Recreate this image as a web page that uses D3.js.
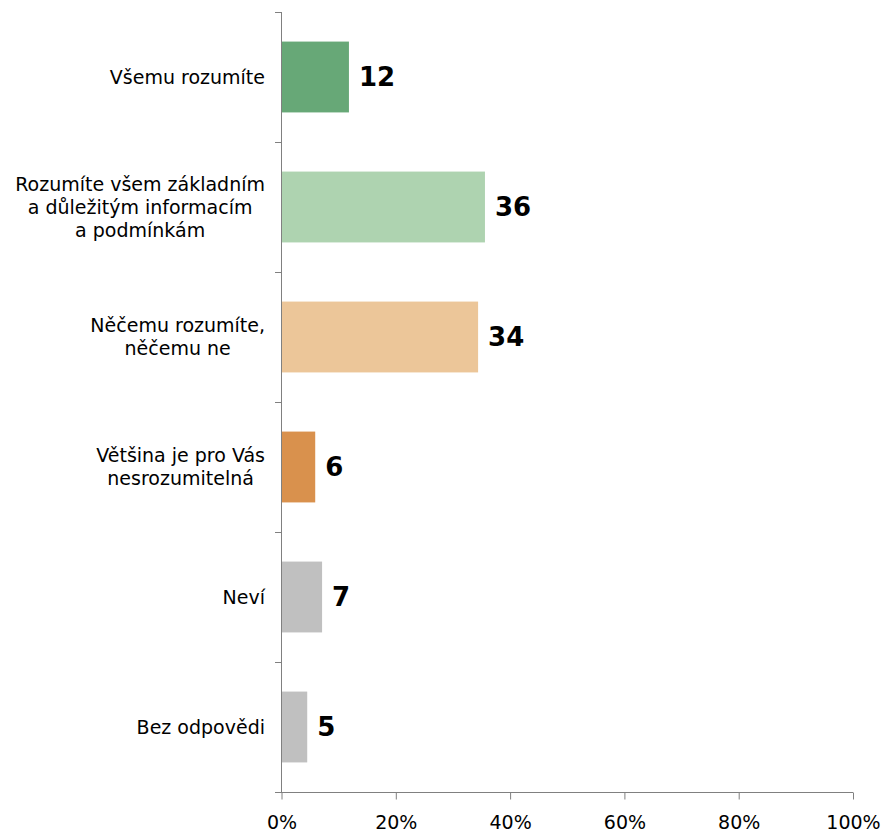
<!DOCTYPE html>
<html><head><meta charset="utf-8">
<script src="https://cdn.jsdelivr.net/npm/d3@7"></script>
<style>body{margin:0;background:#fff}svg{display:block}text{font-family:"DejaVu Sans",Verdana,sans-serif}</style>
</head><body>
<script>
const categories = [
  ["Všemu rozumíte"],
  ["Rozumíte všem základním","a důležitým informacím","a podmínkám"],
  ["Něčemu rozumíte,","něčemu ne"],
  ["Většina je pro Vás","nesrozumitelná"],
  ["Neví"],
  ["Bez odpovědi"]
];
const values = [11.8, 35.6, 34.4, 5.9, 7.1, 4.5];
const valueLabels = ["12","36","34","6","7","5"];
const colors = ["#67a877","#aed3b0","#ecc699","#d9914d","#c0c0c0","#c0c0c0"];
const xTicks = [0,20,40,60,80,100];

const W=885,H=831;
const svg=d3.select("body").append("svg").attr("width",W).attr("height",H);
const x=d3.scaleLinear().domain([0,100]).range([281.5,853]);
const y=d3.scaleBand().domain(d3.range(categories.length)).range([12,792]).paddingInner(0.455).paddingOuter(0.2275);

// bars
svg.selectAll("rect.bar").data(values).join("rect")
  .attr("x",x(0)).attr("y",(d,i)=>y(i)).attr("width",d=>x(d)-x(0)).attr("height",y.bandwidth())
  .attr("fill",(d,i)=>colors[i]);

// value labels
svg.selectAll("text.val").data(values).join("text")
  .attr("x",d=>x(d)+10).attr("y",(d,i)=>y(i)+y.bandwidth()/2).attr("dy","0.36em")
  .attr("font-size",26).attr("font-weight","bold").attr("fill","#000")
  .text((d,i)=>valueLabels[i]);

// x axis
const xAxis=svg.append("g").attr("transform","translate(0,792.5)")
  .call(d3.axisBottom(x).tickValues(xTicks).tickFormat(d=>d+"%").tickSize(7).tickSizeOuter(0));
xAxis.select(".domain").attr("stroke","#808080").attr("d","M275,0H853");
xAxis.selectAll(".tick line").attr("stroke","#808080");
xAxis.selectAll(".tick text").attr("font-size",19).attr("fill","#000").attr("y",36).attr("dy",0)
  .style("font-family","'DejaVu Sans',Verdana,sans-serif");

// y axis line and ticks
const yTicks=d3.range(categories.length+1).map(i=>12+i*130);
svg.append("line").attr("x1",281.5).attr("x2",281.5).attr("y1",12).attr("y2",792.5).attr("stroke","#808080");
svg.selectAll("line.yt").data(yTicks).join("line")
  .attr("x1",275).attr("x2",281.5).attr("y1",d=>d+0.5).attr("y2",d=>d+0.5).attr("stroke","#808080");

// category labels
const lh=23;
categories.forEach((lines,i)=>{
  const cy=y(i)+y.bandwidth()/2;
  const g=svg.append("g");
  const ts=lines.map((l,j)=>g.append("text").attr("font-size",19).attr("fill","#000")
    .attr("y",cy+(j-(lines.length-1)/2)*lh).attr("dy","0.36em").attr("text-anchor","middle").text(l));
  const maxW=d3.max(ts,t=>t.node().getComputedTextLength());
  ts.forEach(t=>t.attr("x",265-maxW/2));
});
</script>
</body></html>
